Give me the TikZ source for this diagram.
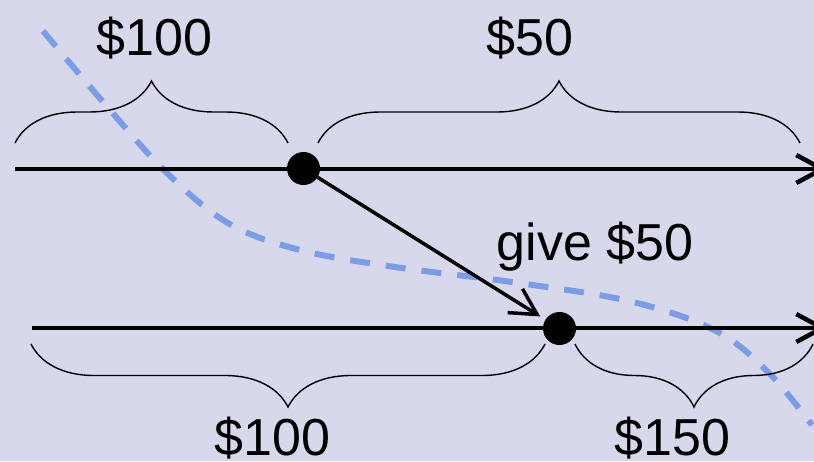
\documentclass[tikz,border=0pt]{standalone}
\usepackage{fontspec}
\setmainfont{Liberation Sans}
\usetikzlibrary{arrows.meta,decorations.pathreplacing}
\definecolor{bgcol}{RGB}{216,216,236}
\definecolor{curvecol}{RGB}{122,157,230}
\begin{document}
\begin{tikzpicture}[x=1pt,y=-1pt,
  dot/.style={circle,fill=black,inner sep=0pt,minimum size=33pt},
  axisline/.style={line width=4.5pt,-{Straight Barb[length=26pt,width=28pt]}},
  givearrow/.style={line width=3.5pt,-{Straight Barb[length=26pt,width=28pt]},shorten >=6pt},
  bracedec/.style={line width=1.4pt,decorate,decoration={brace,amplitude=62pt}},
  bracedecm/.style={line width=1.4pt,decorate,decoration={brace,mirror,amplitude=63pt}},
  lbl/.style={font=\fontsize{52}{60}\selectfont,anchor=base,inner sep=0pt},
  curve/.style={curvecol,line width=6pt,dash pattern=on 20pt off 16pt}]
\fill[bgcol] (0,0) rectangle (814,461);
\useasboundingbox (0,0) rectangle (814,461);
% curve
\draw[curve] plot[smooth,tension=0.6] coordinates {(43,31) (104,103) (166,172) (228,223) (300,250) (395,267) (519,283) (633,302) (716,331) (768,372) (812,425)};
% axes
\coordinate (a1) at (15,169);
\coordinate (a2) at (827,169);
\coordinate (b1) at (32,328);
\coordinate (b2) at (827,328);
\draw[axisline] (a1) -- (a2);
\draw[axisline] (b1) -- (b2);
\node[dot] (p) at (303.5,168.5) {};
\node[dot] (q) at (559.5,328.5) {};
\draw[givearrow] (p) -- (q);
% braces
\coordinate (t1) at (15,143);
\coordinate (t2) at (288,143);
\coordinate (t3) at (318,143);
\coordinate (t4) at (800,143);
\coordinate (u1) at (31,344);
\coordinate (u2) at (545,344);
\coordinate (u3) at (575,344);
\coordinate (u4) at (813,344);
\draw[bracedec] (t1) -- (t2);
\draw[bracedec] (t3) -- (t4);
\draw[bracedecm] (u1) -- (u2);
\draw[bracedecm] (u3) -- (u4);
% labels
\node[lbl] (l1) at (154.5,55) {\$100};
\node[lbl] (l2) at (530,55) {\$50};
\node[lbl] (l3) at (595,260) {give \$50};
\node[lbl] (l4) at (272.5,455) {\$100};
\node[lbl] (l5) at (672.5,455) {\$150};
\end{tikzpicture}
\end{document}
